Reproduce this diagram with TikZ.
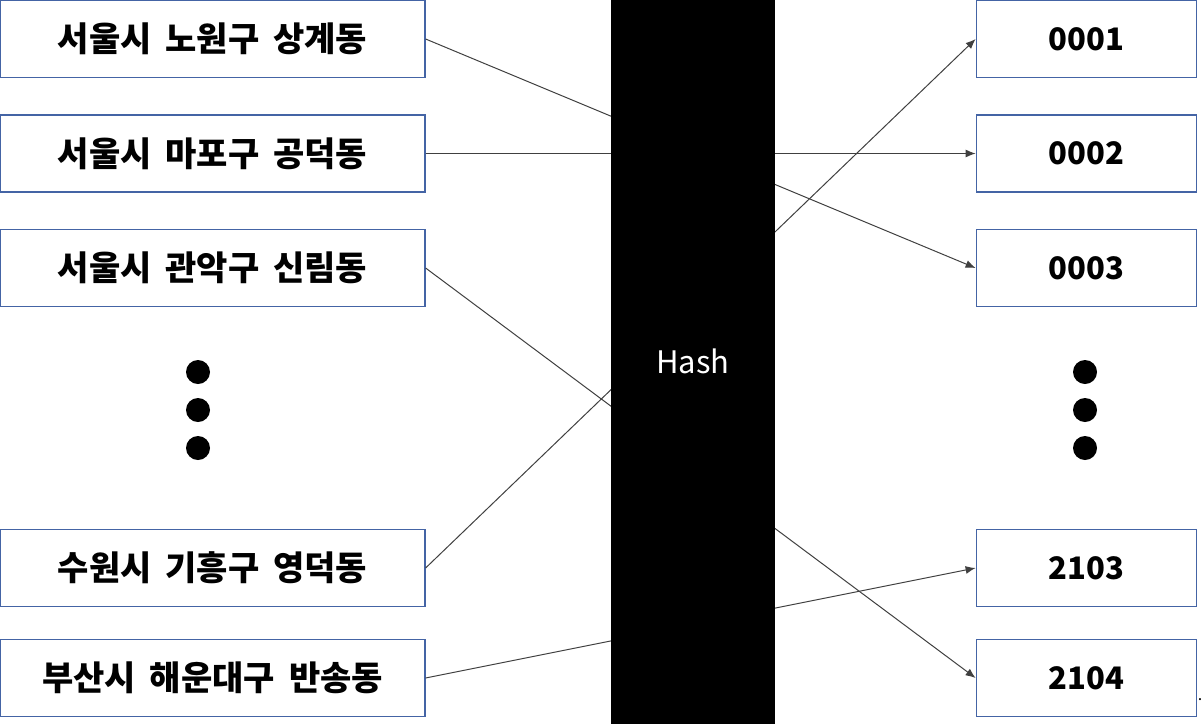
\documentclass[tikz,border=0pt]{standalone}
\usepackage{fontspec}
\setmainfont{Noto Sans CJK KR}[WordSpace=1.8]
\usetikzlibrary{positioning,arrows.meta}
\definecolor{boxline}{RGB}{68,100,165}
\definecolor{linkgray}{RGB}{64,64,64}

\begin{document}
\begin{tikzpicture}[x=0.5pt, y=-0.5pt,
  every node/.style={inner sep=0pt},
  addrbox/.style={rectangle, draw=boxline, line width=0.6pt, minimum width=212.5pt, minimum height=38.5pt, font=\fontsize{17}{20}\selectfont\bfseries},
  codebox/.style={addrbox, minimum width=110pt, font=\fontsize{15.5}{18}\selectfont\bfseries},
  bigdot/.style={circle, fill=black, minimum size=12pt},
  link/.style={draw=linkgray, line width=0.5pt, -{Latex[length=5pt,width=4pt]}}]
  \useasboundingbox (0,0) rectangle (1203,723);
  % addresses
  \node[addrbox] (sanggye) at (212.5,39) {서울시 노원구 상계동};
  \node[addrbox, below=18.15pt of sanggye] (gongdeok) {서울시 마포구 공덕동};
  \node[addrbox, below=18.15pt of gongdeok] (sillim) {서울시 관악구 신림동};
  \node[addrbox, below=110.9pt of sillim] (yeongdeok) {수원시 기흥구 영덕동};
  \node[addrbox, below=15.9pt of yeongdeok] (bansong) {부산시 해운대구 반송동};
  % codes
  \node[codebox, right=275pt of sanggye] (c0001) {0001};
  \node[codebox, right=275pt of gongdeok] (c0002) {0002};
  \node[codebox, right=275pt of sillim] (c0003) {0003};
  \node[codebox, right=275pt of yeongdeok] (c2103) {2103};
  \node[codebox, right=275pt of bansong] (c2104) {2104};

  \draw[link] (sanggye.east) -- (c0003.west);
  \draw[link] (gongdeok.east) -- (c0002.west);
  \draw[link] (sillim.east) -- (c2104.west);
  \draw[link] (yeongdeok.east) -- (c0001.west);
  \draw[link] (bansong.east) -- (c2103.west);

  % hash function covers the middle of the links
  \node[fill=black, minimum width=82pt, minimum height=366pt, text=white,
    font=\fontsize{15.5}{18}\selectfont] (hash) at (693,361.5) {Hash};

  % skipped entries
  \node[bigdot] (ldot1) at (198,372) {};
  \node[bigdot] (ldot2) at (198,410) {};
  \node[bigdot] (ldot3) at (198,448) {};
  \node[bigdot] (rdot1) at (1085,372) {};
  \node[bigdot] (rdot2) at (1085,410) {};
  \node[bigdot] (rdot3) at (1085,448) {};
  \node[font=\fontsize{8}{8}\selectfont] (mark) at (1200,700) {.};
\end{tikzpicture}
\end{document}
